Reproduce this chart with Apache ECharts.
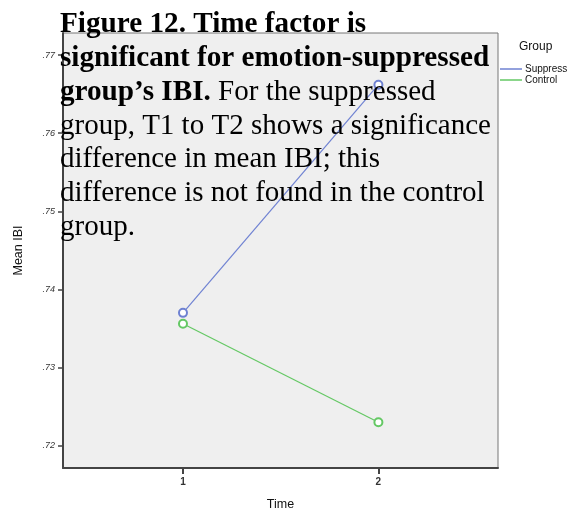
<!DOCTYPE html>
<html>
<head>
<meta charset="utf-8">
<script src="https://cdn.jsdelivr.net/npm/echarts@6/dist/echarts.min.js"></script>
<style>html,body{margin:0;padding:0;background:#fff}#c{width:573px;height:508px}</style>
</head>
<body>
<div id="c"></div>
<script>
const timePoints = [1, 2];
const suppressIBI = [0.7370, 0.7662];
const controlIBI = [0.7356, 0.7230];
const yTicks = [0.72, 0.73, 0.74, 0.75, 0.76, 0.77];
const xTicks = [1, 2];
const seriesNames = ['Suppress', 'Control'];
const captionLines = [
  '{b|Figure 12. Time factor is}',
  '{b|significant for emotion-suppressed}',
  '{b|group\u2019s IBI.}{n| For the suppressed}',
  '{n|group, T1 to T2 shows a significance}',
  '{n|difference in mean IBI; this}',
  '{n|difference is not found in the control}',
  '{n|group.}'
];

const chart = echarts.init(document.getElementById('c'));
const sans = 'Liberation Sans, Arial, sans-serif';
const serif = 'Liberation Serif, Times New Roman, serif';
chart.setOption({
  animation: false,
  backgroundColor: '#fff',
  title: [
    {
      text: captionLines.join('\n'),
      left: 60, top: 8, padding: 0, z: 20,
      textStyle: {
        rich: {
          b: { fontFamily: serif, fontSize: 29.2, fontWeight: 'bold', color: '#000', lineHeight: 33.7 },
          n: { fontFamily: serif, fontSize: 29, fontWeight: 'normal', color: '#000', lineHeight: 33.7 }
        }
      }
    },
    {
      text: 'Group', left: 519, top: 41, padding: 0,
      textStyle: { fontFamily: sans, fontSize: 12, fontWeight: 'normal', color: '#111' }
    }
  ],
  legend: {
    orient: 'vertical', left: 500, top: 64, padding: 0,
    itemWidth: 22, itemHeight: 1.5, itemGap: 1, icon: 'rect',
    data: seriesNames,
    textStyle: { fontFamily: sans, fontSize: 10, color: '#111', padding: [0, 0, 0, -2] }
  },
  grid: {
    left: 63, right: 75, top: 33, bottom: 40,
    outerBoundsMode: 'none', containLabel: false,
    show: true, backgroundColor: '#efefef', borderColor: '#777', borderWidth: 1
  },
  xAxis: {
    type: 'value', min: 0.386, max: 2.612,
    name: 'Time', nameLocation: 'middle', nameGap: 30,
    nameTextStyle: { fontFamily: sans, fontSize: 12.5, color: '#111' },
    axisLine: { show: true, lineStyle: { color: '#444', width: 2 } },
    axisTick: { show: true, length: 6, customValues: xTicks, lineStyle: { color: '#444', width: 2 } },
    axisLabel: { customValues: xTicks, margin: 9, fontFamily: sans, fontSize: 10, fontWeight: 'bold', color: '#333' },
    splitLine: { show: false }
  },
  yAxis: {
    type: 'value', min: 0.71714, max: 0.77282,
    name: 'Mean IBI', nameLocation: 'middle', nameGap: 38, nameRotate: 90,
    nameTextStyle: { fontFamily: sans, fontSize: 12.5, color: '#111' },
    axisLine: { show: true, lineStyle: { color: '#444', width: 2 } },
    axisTick: { show: true, length: 5, customValues: yTicks, lineStyle: { color: '#444', width: 1.5 } },
    axisLabel: {
      customValues: yTicks, margin: 8, fontFamily: sans, fontSize: 9, fontStyle: 'italic', color: '#333',
      formatter: v => v.toFixed(2).replace(/^0/, '')
    },
    splitLine: { show: false }
  },
  series: [
    {
      name: seriesNames[0], type: 'line',
      data: timePoints.map((t, i) => [t, suppressIBI[i]]),
      symbol: 'emptyCircle', symbolSize: 8,
      lineStyle: { color: '#6f82d2', width: 1.2 },
      itemStyle: { color: '#6f82d2', borderWidth: 1.2 }
    },
    {
      name: seriesNames[1], type: 'line',
      data: timePoints.map((t, i) => [t, controlIBI[i]]),
      symbol: 'emptyCircle', symbolSize: 8,
      lineStyle: { color: '#64c864', width: 1.2 },
      itemStyle: { color: '#64c864', borderWidth: 1.2 }
    }
  ]
});
</script>
</body>
</html>
